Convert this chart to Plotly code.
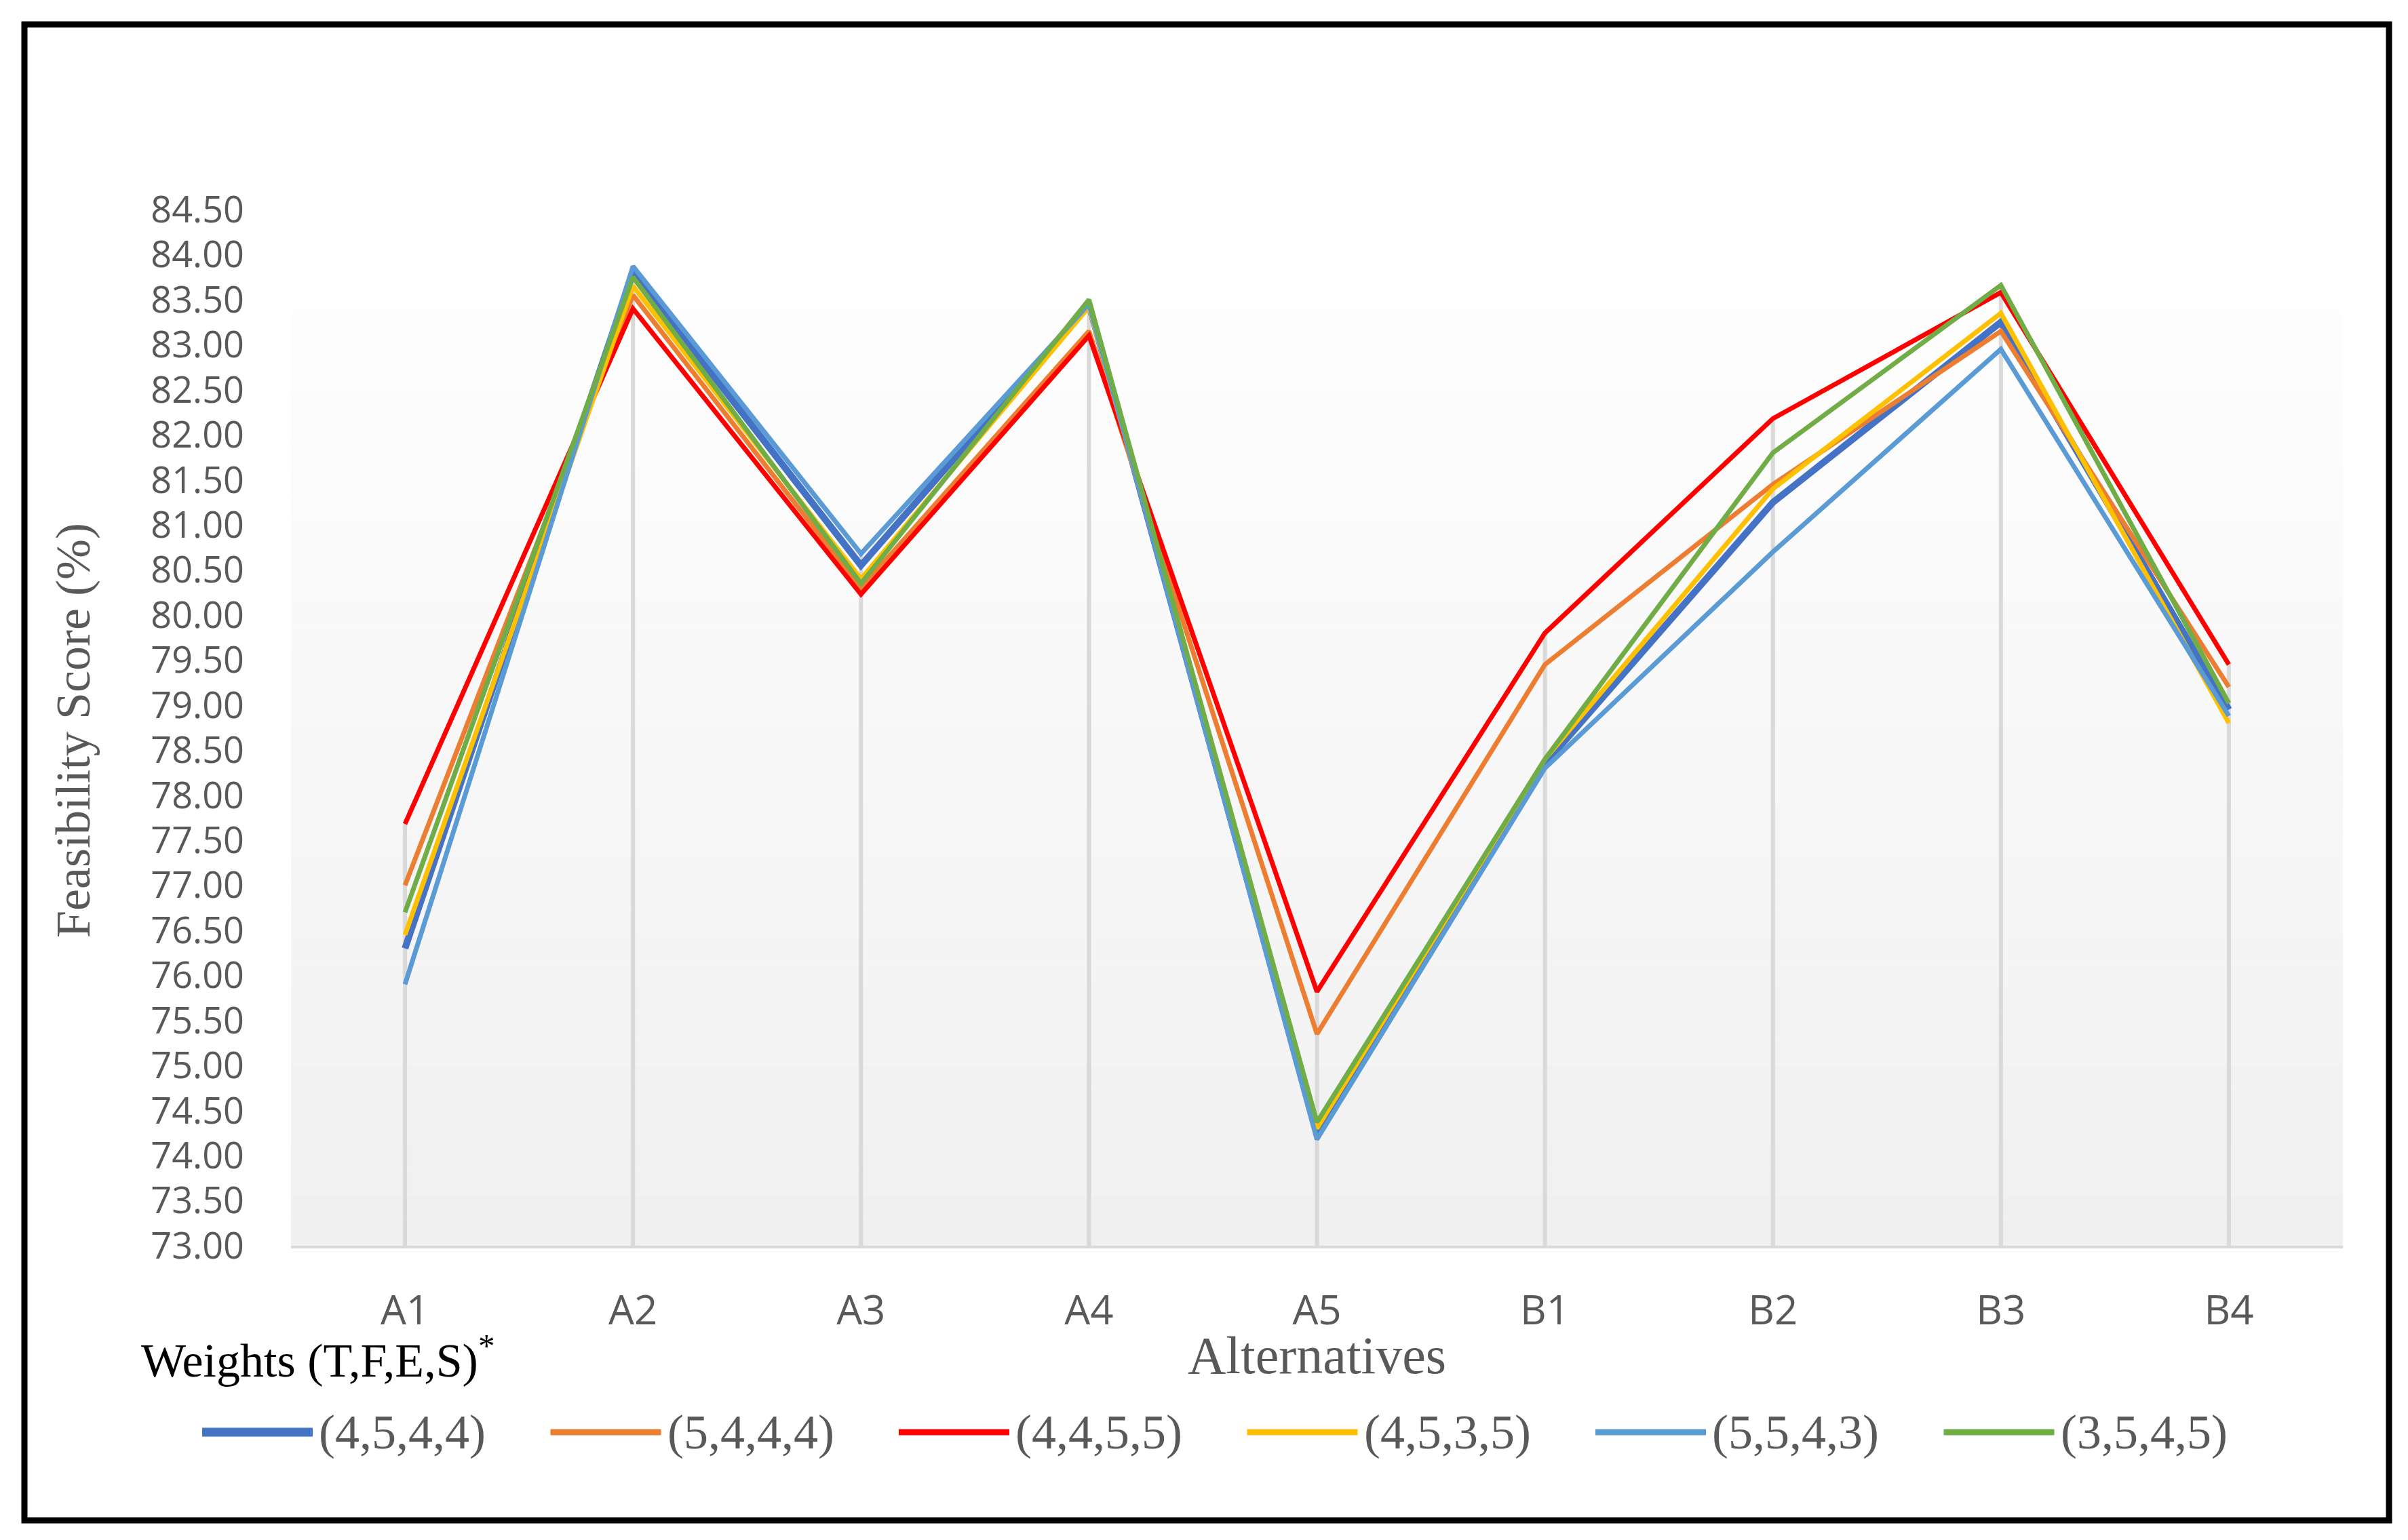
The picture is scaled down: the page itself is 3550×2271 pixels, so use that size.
import plotly.graph_objects as go

categories = ["A1", "A2", "A3", "A4", "A5", "B1", "B2", "B3", "B4"]
series_names = ["(4,5,4,4)", "(5,4,4,4)", "(4,4,5,5)", "(4,5,3,5)", "(5,5,4,3)", "(3,5,4,5)"]
s_4544 = [76.30, 83.80, 80.55, 83.45, 74.25, 78.35, 81.25, 83.25, 78.95]
s_5444 = [77.00, 83.55, 80.30, 83.15, 75.35, 79.45, 81.45, 83.15, 79.20]
s_4455 = [77.68, 83.40, 80.23, 83.10, 75.82, 79.80, 82.18, 83.58, 79.45]
s_4535 = [76.45, 83.65, 80.40, 83.42, 74.30, 78.40, 81.40, 83.35, 78.80]
s_5543 = [75.90, 83.87, 80.68, 83.45, 74.18, 78.30, 80.70, 82.95, 78.88]
s_3545 = [76.70, 83.75, 80.35, 83.50, 74.37, 78.40, 81.80, 83.66, 79.02]
series_values = [s_4544, s_5444, s_4455, s_4535, s_5543, s_3545]
y_min, y_max = 73.0, 84.5
y_ticks = [73.0 + 0.5 * i for i in range(24)]
y_tick_labels = [f"{v:.2f}" for v in y_ticks]

colors = ["#4472C4", "#ED7D31", "#FF0000", "#FFC000", "#5B9BD5", "#70AD47"]
widths = [10, 7, 7, 7, 7, 7]

W, H = 3550, 2271
M_L, M_R, M_T, M_B = 421, 104, 301, 442
PW, PH = W - M_L - M_R, H - M_T - M_B


def px_x(px):
    return (px - M_L) / PW


def px_y(py):
    return (H - M_B - py) / PH


fig = go.Figure()

# drop lines: from axis floor up to highest series value at each category
drop_x, drop_y = [], []
for i, cat in enumerate(categories):
    top = max(s[i] for s in series_values)
    drop_x += [cat, cat, None]
    drop_y += [y_min, top, None]
fig.add_trace(go.Scatter(x=drop_x, y=drop_y, mode="lines", showlegend=False,
                         line=dict(color="#D9D9D9", width=6), hoverinfo="skip"))

for name, vals, c, w in zip(series_names, series_values, colors, widths):
    fig.add_trace(go.Scatter(x=categories, y=vals, mode="lines", name=name,
                             line=dict(color=c, width=w), showlegend=False))

shapes = []
# gradient plot background
n = 40
for i in range(n):
    t = i / (n - 1)
    g = int(round(255 - (255 - 240) * (1 - t)))
    shapes.append(dict(type="rect", xref="paper", yref="paper",
                       x0=0, x1=1, y0=i / n, y1=(i + 1) / n,
                       fillcolor=f"rgb({g},{g},{g})", line=dict(width=0), layer="below"))
# outer frame
shapes.append(dict(type="rect", xref="paper", yref="paper",
                   x0=px_x(28), x1=px_x(3514), y0=px_y(2234), y1=px_y(28),
                   line=dict(color="black", width=9), fillcolor="rgba(0,0,0,0)"))

annotations = []
serif = "Liberation Serif"
grey = "#595959"
annotations.append(dict(text="Feasibility Score (%)", xref="paper", yref="paper",
                        x=px_x(100), y=px_y(1069), textangle=-90, showarrow=False,
                        font=dict(family=serif, size=72, color=grey),
                        xanchor="center", yanchor="middle"))
annotations.append(dict(text="Alternatives", xref="paper", yref="paper",
                        x=px_x(1933), y=px_y(1990), showarrow=False,
                        font=dict(family=serif, size=78, color=grey),
                        xanchor="center", yanchor="middle"))
annotations.append(dict(text="Weights (T,F,E,S)<sup>*</sup>", xref="paper", yref="paper",
                        x=px_x(198), y=px_y(1993), showarrow=False,
                        font=dict(family=serif, size=70, color="black"),
                        xanchor="left", yanchor="middle"))

# custom legend
leg_y = px_y(2104)
for i, (name, c) in enumerate(zip(series_names, colors)):
    x0 = 290 + i * 513.5
    shapes.append(dict(type="line", xref="paper", yref="paper",
                       x0=px_x(x0), x1=px_x(x0 + 163), y0=leg_y, y1=leg_y,
                       line=dict(color=c, width=13 if i == 0 else 9)))
    annotations.append(dict(text=name, xref="paper", yref="paper",
                            x=px_x(x0 + 170), y=leg_y, showarrow=False,
                            font=dict(family=serif, size=72, color=grey),
                            xanchor="left", yanchor="middle"))

fig.update_layout(
    width=W, height=H,
    margin=dict(l=M_L, r=M_R, t=M_T, b=M_B),
    paper_bgcolor="white", plot_bgcolor="rgba(0,0,0,0)",
    shapes=shapes, annotations=annotations, showlegend=False,
    xaxis=dict(type="category", range=[-0.5, 8.5], showgrid=False,
               showline=True, linecolor="#D9D9D9", linewidth=4,
               ticks="", tickfont=dict(family="Open Sans", size=60, color=grey),
               ticklabelstandoff=40, zeroline=False),
    yaxis=dict(range=[y_min, y_max], tickvals=y_ticks, ticktext=y_tick_labels,
               showgrid=False, showline=False, zeroline=False, ticks="",
               tickfont=dict(family="Open Sans", size=54, color=grey),
               ticklabelstandoff=68),
)

fig.write_html("out.html")
